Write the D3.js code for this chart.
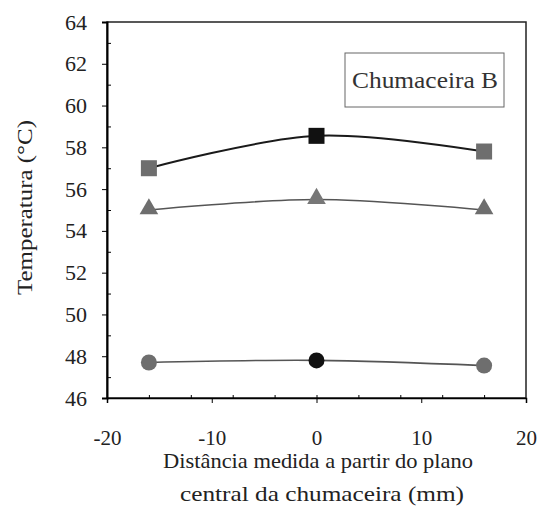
<!DOCTYPE html>
<html>
<head>
<meta charset="utf-8">
<script src="https://cdn.jsdelivr.net/npm/d3@7"></script>
<style>
  body { margin: 0; background: #fff; }
</style>
</head>
<body>
<svg id="chart" width="541" height="520"></svg>
<script>
// distance from the central plane (mm)
var positions = [-16, 0, 16];
var squareTemps = [57.0, 58.55, 57.8];
var triangleTemps = [55.0, 55.5, 55.0];
var circleTemps = [47.7, 47.8, 47.55];
var yTicks = [46, 48, 50, 52, 54, 56, 58, 60, 62, 64];
var xTicks = [-20, -10, 0, 10, 20];
var xMinor = [-16, -12, -8, -4, 0, 4, 8, 12, 16];

var serif = "'Liberation Serif', 'Times New Roman', Times, serif";
var svg = d3.select("#chart");
var plotLeft = 107, plotRight = 526, plotTop = 22, plotBottom = 398;

var x = d3.scaleLinear().domain([-20, 20]).range([plotLeft, plotRight]);
var y = d3.scaleLinear().domain([46, 64]).range([plotBottom, plotTop]);
var fmt = function (d) { return String(d); };

// plot frame
svg.append("rect")
    .attr("x", plotLeft).attr("y", plotTop)
    .attr("width", plotRight - plotLeft).attr("height", plotBottom - plotTop)
    .attr("fill", "none").attr("stroke", "#222").attr("stroke-width", 1.5);

// y axis: major ticks outside, minor inside
var yAxis = svg.append("g").attr("transform", "translate(" + plotLeft + ",0)")
    .call(d3.axisLeft(y).tickValues(yTicks).tickSize(5).tickPadding(15).tickFormat(fmt));
yAxis.select(".domain").attr("stroke-width", 2);
yAxis.selectAll("text")
    .style("font-family", serif).style("font-size", "22px").attr("fill", "#222");
svg.append("g").attr("transform", "translate(" + plotLeft + ",0)")
    .call(d3.axisRight(y).tickValues(d3.range(47, 64, 2)).tickSize(4).tickFormat(""))
    .select(".domain").remove();

// x axis
var xAxis = svg.append("g").attr("transform", "translate(0," + plotBottom + ")")
    .call(d3.axisBottom(x).tickValues(xTicks).tickSize(5).tickPadding(27).tickFormat(fmt));
xAxis.select(".domain").attr("stroke-width", 1.5);
xAxis.selectAll("text")
    .style("font-family", serif).style("font-size", "21px").attr("fill", "#222");
svg.append("g").attr("transform", "translate(0," + plotBottom + ")")
    .call(d3.axisTop(x).tickValues(xMinor).tickSize(3).tickFormat(""))
    .select(".domain").remove();

var line = d3.line()
    .x(function (d, i) { return x(positions[i]); })
    .y(function (d) { return y(d); })
    .curve(d3.curveCatmullRom);

[squareTemps, triangleTemps, circleTemps].forEach(function (s, k) {
    svg.append("path").datum(s)
        .attr("d", line)
        .attr("fill", "none")
        .attr("stroke", k === 0 ? "#1a1a1a" : "#555")
        .attr("stroke-width", k === 0 ? 2 : 1.6);
});

function markerColor(i) { return positions[i] === 0 ? "#111" : "#6e6e6e"; }

svg.selectAll(".sq").data(squareTemps).enter().append("rect")
    .attr("x", function (d, i) { return x(positions[i]) - 8; })
    .attr("y", function (d) { return y(d) - 8; })
    .attr("width", 16).attr("height", 16)
    .attr("fill", function (d, i) { return markerColor(i); });

svg.selectAll(".tri").data(triangleTemps).enter().append("path")
    .attr("d", d3.symbol().type(d3.symbolTriangle).size(150))
    .attr("transform", function (d, i) { return "translate(" + x(positions[i]) + "," + (y(d) - 1) + ")"; })
    .attr("fill", function (d, i) { return positions[i] === 0 ? "#777" : "#6e6e6e"; });

svg.selectAll(".ci").data(circleTemps).enter().append("circle")
    .attr("cx", function (d, i) { return x(positions[i]); })
    .attr("cy", function (d) { return y(d); })
    .attr("r", 8)
    .attr("fill", function (d, i) { return markerColor(i); });

// label box
svg.append("rect")
    .attr("x", 345).attr("y", 53).attr("width", 159).attr("height", 54)
    .attr("fill", "#fff").attr("stroke", "#666").attr("stroke-width", 1);
svg.append("text")
    .attr("x", 352).attr("y", 88)
    .attr("textLength", 146).attr("lengthAdjust", "spacingAndGlyphs")
    .style("font-family", serif).style("font-size", "23px").attr("fill", "#333")
    .text("Chumaceira B");

// axis titles
svg.append("text")
    .attr("transform", "translate(32,295) rotate(-90)")
    .attr("textLength", 175).attr("lengthAdjust", "spacingAndGlyphs")
    .style("font-family", serif).style("font-size", "21px").attr("fill", "#222")
    .text("Temperatura (°C)");

svg.append("text")
    .attr("x", 163).attr("y", 468)
    .attr("textLength", 310).attr("lengthAdjust", "spacingAndGlyphs")
    .style("font-family", serif).style("font-size", "21px").attr("fill", "#222")
    .text("Distância medida a partir do plano");
svg.append("text")
    .attr("x", 180).attr("y", 501)
    .attr("textLength", 284).attr("lengthAdjust", "spacingAndGlyphs")
    .style("font-family", serif).style("font-size", "21px").attr("fill", "#222")
    .text("central da chumaceira  (mm)");
</script>
</body>
</html>
